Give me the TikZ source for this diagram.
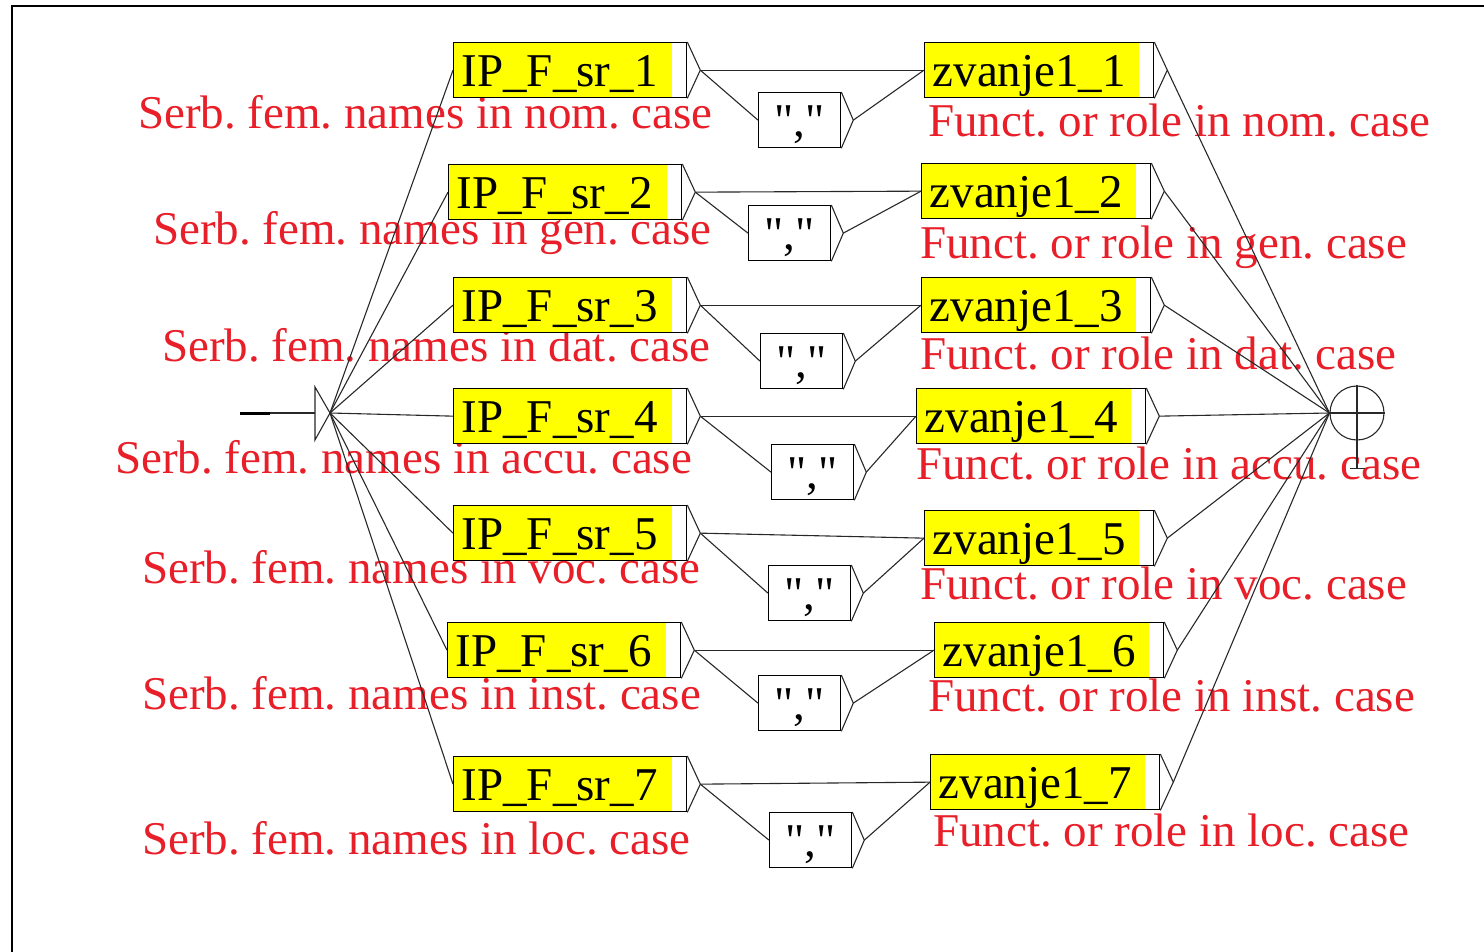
\documentclass[tikz,border=0pt]{standalone}
\usepackage{fontspec}
\setmainfont{Liberation Serif}[Ligatures=TeXOff]
\definecolor{lblred}{RGB}{232,30,40}
\definecolor{boxyellow}{RGB}{255,255,0}
\definecolor{wire}{RGB}{40,40,40}
\newcommand\boxfnt{\fontsize{47}{50}\selectfont}
\newcommand\lblfnt{\fontsize{47}{50}\selectfont}
\tikzset{
  x=1pt, y=-1pt,
  wireline/.style={draw=wire, line width=1.1pt},
  basebox/.style={draw=black, line width=1.3pt, anchor=north west, minimum height=55pt,
    inner xsep=8pt, inner ysep=0pt, align=left, font=\boxfnt, text height=32pt, text depth=0pt},
  ipbox/.style={basebox, text width=217pt, fill=white,
    path picture={\fill[boxyellow] (path picture bounding box.south west) rectangle ([xshift=-15pt]path picture bounding box.north east);}},
  zbox/.style={basebox, text width=213pt, fill=white,
    path picture={\fill[boxyellow] (path picture bounding box.south west) rectangle ([xshift=-15pt]path picture bounding box.north east);}},
  cbox/.style={basebox, text width=66pt, align=center, fill=white},
  lbl/.style={anchor=base west, text=lblred, font=\lblfnt\frenchspacing, inner sep=0pt},
}
\begin{document}
\begin{tikzpicture}
\frenchspacing
\useasboundingbox (0,0) rectangle (1484,952);
% frame
\draw[line width=2.5pt] (12,952) -- (12,6) -- (1484,6);
% labels
\foreach \i/\lx/\ly/\rx/\ry/\cs in {1/138/129/928/137/nom, 2/153/245/920/259/gen, 3/162/361/920/369/dat, 4/115/473/916/479/accu, 5/142/583/920/599/voc, 6/142/709/928/711/inst, 7/142/854/933/846/loc}{
  \node[lbl] (ll\i) at (\lx,\ly) {Serb. fem. names in \cs. case};
  \node[lbl] (rl\i) at (\rx,\ry) {Funct. or role in \cs. case};
}
% start state
\coordinate (s0) at (240,413);
\coordinate (s1) at (270,413);
\coordinate (stop) at (315,387);
\coordinate (sbot) at (315,440);
\coordinate (sin) at (315,413);
\coordinate (s) at (330,413);
\draw[line width=3pt] (s0) -- (s1);
\draw[wireline] (s1) -- (sin);
\draw[wireline] (stop) -- (s) -- (sbot) -- cycle;
% final state
\node[circle, draw=wire, line width=1.1pt, minimum size=54pt, inner sep=0pt] (e) at (1357,413) {};
\draw[wireline] (e.west) -- (e.east);
\draw[wireline] (e.north) -- ([yshift=-28pt]e.south) coordinate (eb);
\draw[wireline] ([xshift=-7pt]eb) -- ([xshift=8pt]eb);
% rows
\foreach \i/\ax/\ay/\cx/\cy/\zx/\zy in {1/453/42/758/92/924/42, 2/448/164/748/205/921/163, 3/453/277/760/333/921/277, 4/453/388/771/444/916/388, 5/453/505/768/565/924/510, 6/447/622/758/675/934/622, 7/453/756/769/812/930/754}{
  \node[ipbox] (a\i) at (\ax,\ay) {IP\_F\_sr\_\i};
  \node[cbox] (c\i) at (\cx,\cy) {","};
  \node[zbox] (z\i) at (\zx,\zy) {zvanje1\_\i};
  \coordinate (a\i t) at ([xshift=13pt]a\i.east);
  \coordinate (c\i t) at ([xshift=12pt]c\i.east);
  \coordinate (z\i t) at ([xshift=13pt]z\i.east);
  \draw[wireline] (a\i.north east) -- (a\i t) -- (a\i.south east);
  \draw[wireline] (c\i.north east) -- (c\i t) -- (c\i.south east);
  \draw[wireline] (z\i.north east) -- (z\i t) -- (z\i.south east);
  \draw[wireline] (s) -- (a\i.west);
  \draw[wireline] (a\i t) -- (z\i.west);
  \draw[wireline] (a\i t) -- (c\i.west);
  \draw[wireline] (c\i t) -- (z\i.west);
  \draw[wireline] (z\i t) -- (e.west);
}
\end{tikzpicture}
\end{document}
